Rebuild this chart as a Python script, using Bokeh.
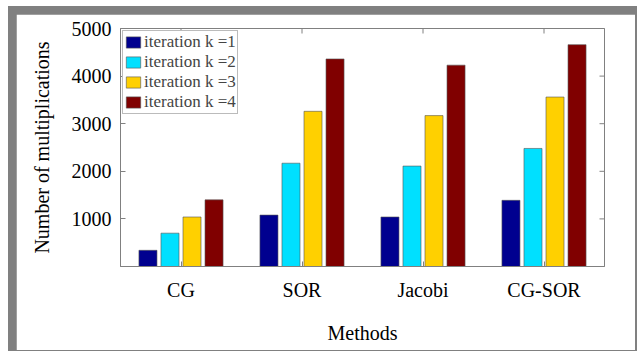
from bokeh.plotting import figure
from bokeh.models import FactorRange, Range1d, FixedTicker, ColumnDataSource
from bokeh.transform import dodge
from bokeh.layouts import column
from bokeh.embed import file_html
from bokeh.resources import INLINE
import math

methods = ["CG", "SOR", "Jacobi", "CG-SOR"]
k1 = [340, 1080, 1040, 1390]
k2 = [700, 2170, 2110, 2480]
k3 = [1040, 3260, 3170, 3560]
k4 = [1400, 4360, 4230, 4660]
labels = ["iteration k =1", "iteration k =2", "iteration k =3", "iteration k =4"]
colors = ["#00008F", "#00E0FF", "#FFD000", "#800000"]
y_ticks = [1000, 2000, 3000, 4000, 5000]

src = ColumnDataSource(data=dict(method=methods, k1=k1, k2=k2, k3=k3, k4=k4))

FONT = "Liberation Serif"
AX = "#808080"

p = figure(x_range=FactorRange(factors=methods, range_padding=0),
           y_range=Range1d(0, 5000),
           width=619, height=336, output_backend="svg", toolbar_location=None,
           min_border_left=104, min_border_right=31, min_border_top=14,
           min_border_bottom=84)
p.xgrid.visible = False
p.ygrid.visible = False
p.outline_line_color = AX
p.background_fill_color = "white"
p.border_fill_color = "white"

offsets = [-0.273, -0.091, 0.091, 0.273]
for col, off, c, lab in zip(["k1", "k2", "k3", "k4"], offsets, colors, labels):
    p.vbar(x=dodge("method", off, range=p.x_range), top=col, bottom=0,
           width=0.149, source=src, fill_color=c, line_color="#555555",
           line_alpha=0.6, line_width=1, legend_label=lab)

# mirrored inward ticks on the top and right frame edges (half clipped by frame)
p.scatter(x=dodge("x", 0.5, range=p.x_range), y="y", marker="dash", size=10,
          line_color=AX, line_width=1,
          source=ColumnDataSource(dict(x=[methods[-1]] * len(y_ticks), y=y_ticks)))
p.scatter(x="x", y="y", marker="dash", size=10, angle=math.pi / 2,
          line_color=AX, line_width=1,
          source=ColumnDataSource(dict(x=methods, y=[y_ticks[-1]] * len(methods))))

ya = p.yaxis[0]
ya.ticker = FixedTicker(ticks=y_ticks)
ya.axis_label = "Number of multiplications"
for ax in [p.yaxis[0], p.xaxis[0]]:
    ax.axis_line_color = AX
    ax.major_tick_line_color = AX
    ax.minor_tick_line_color = None
    ax.major_tick_in = 5
    ax.major_tick_out = 0
    ax.major_label_text_font = FONT
    ax.major_label_text_font_size = "20px"
    ax.major_label_text_color = "black"
    ax.axis_label_text_font = FONT
    ax.axis_label_text_font_size = "20px"
    ax.axis_label_text_font_style = "normal"
    ax.axis_label_text_color = "black"
ya.major_label_standoff = 9
ya.axis_label_standoff = 16
xa = p.xaxis[0]
xa.axis_label = "Methods"
xa.major_label_standoff = 12
xa.axis_label_standoff = 18

lg = p.legend[0]
lg.location = "top_left"
lg.margin = 2
lg.padding = 1
lg.spacing = 0
lg.glyph_width = 18
lg.glyph_height = 14
lg.label_height = 14
lg.label_standoff = 2
lg.label_text_font = FONT
lg.label_text_font_size = "17px"
lg.label_text_baseline = "middle"
lg.border_line_color = "#777777"
lg.border_line_width = 1
lg.background_fill_alpha = 1

layout = column(p, styles={"background-color": "#808080",
                           "padding": "8px 2px 1px 8px",
                           "margin": "6px 0px 0px 8px"})

open("out.html", "w").write(file_html(layout, INLINE))
